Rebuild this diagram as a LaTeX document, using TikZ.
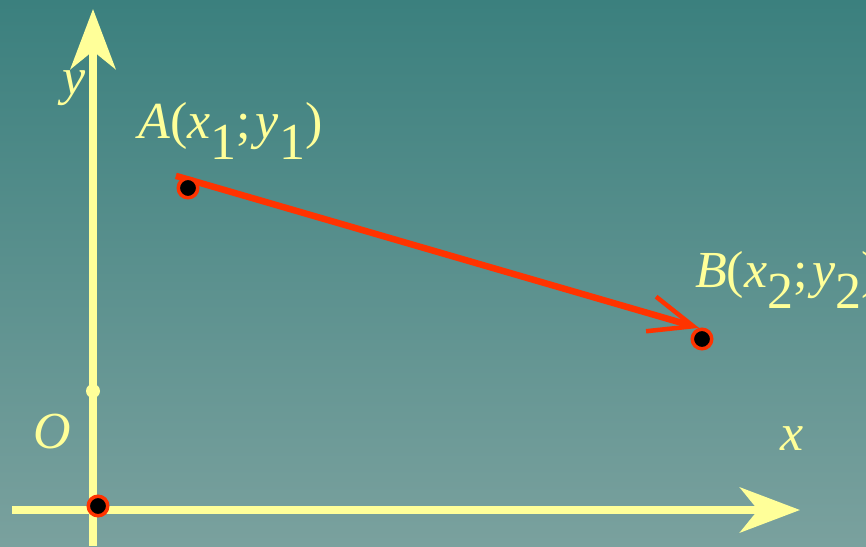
\documentclass[tikz,border=0pt]{standalone}
\usepackage{fontspec}
\setmainfont{Liberation Serif}
\usepackage{tikz}
\usetikzlibrary{arrows.meta, backgrounds}
\definecolor{verdeoscuro}{RGB}{59, 128, 126}
\definecolor{verdeclaro}{RGB}{122, 161, 158}
\definecolor{amarillo}{RGB}{255, 255, 153}
\definecolor{rojo}{RGB}{255, 51, 0}
\newcommand{\bajo}[1]{\raisebox{-21pt}{#1}}

\begin{document}
\begin{tikzpicture}[x=1pt, y=-1pt,
    eje/.style={amarillo, line width=8pt, -{Stealth[length=60pt, width=45pt, inset=18pt]}},
    punto/.style={circle, fill=black, draw=rojo, line width=3.5pt, minimum size=19.5pt, inner sep=0pt},
    marca/.style={circle, fill=amarillo, minimum size=14pt, inner sep=0pt},
    etiqueta/.style={text=amarillo, font=\fontsize{52}{54}\selectfont, inner sep=0pt, anchor=base west},
    vector/.style={rojo, line width=6.5pt, -{Straight Barb[length=44pt, width=36pt, line width=4.5pt]}}
]
\useasboundingbox (0,0) rectangle (866,546);
\clip (0,0) rectangle (866,546);
\coordinate (xini) at (12,510);
\coordinate (xfin) at (800,510);
\coordinate (yini) at (93,546);
\coordinate (yfin) at (93,9);
\draw [eje] (xini) -- (xfin);
\draw [eje] (yini) -- (yfin);
\node (uno) [marca] at (93,391) {};
\node (O) [punto] at (98,506) {};
\node (A) [punto] at (188,188) {};
\node (B) [punto] at (702,339) {};
\begin{pgfonlayer}{background}
\shade [top color=verdeoscuro, bottom color=verdeclaro] (0,0) rectangle (866,546);
\draw [vector] ([shift={(-4,-4)}]A.north west) -- (B.105);
\end{pgfonlayer}
\node (ey) [etiqueta] at (62,94) {\textit{y}};
\node (ex) [etiqueta] at (780,450) {\textit{x}};
\node (eO) [etiqueta] at (33,448) {\textit{O}};
\node (eA) [etiqueta] at (138,138) {\textit{A}(\textit{x}\bajo{1};\hspace{5pt}\textit{y}\bajo{1})};
\node (eB) [etiqueta] at (695,287) {\textit{B}(\textit{x}\bajo{2};\hspace{5pt}\textit{y}\bajo{2})};
\end{tikzpicture}
\end{document}
